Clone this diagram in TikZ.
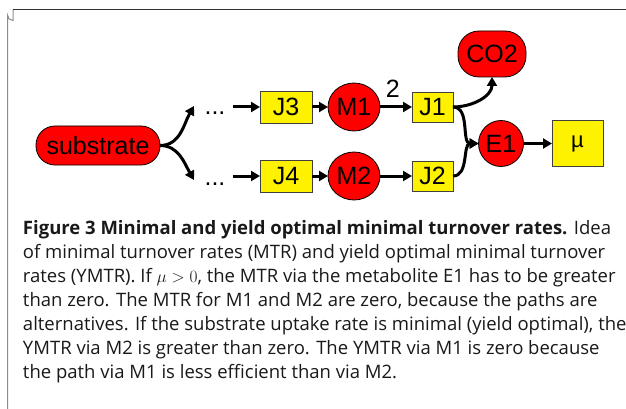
\documentclass[tikz,border=0pt]{standalone}
\usepackage{fontspec}
\setmainfont{Liberation Sans}
\newfontfamily\capfont{Open Sans}
\usetikzlibrary{arrows.meta,shapes.geometric}
\begin{document}
\begin{tikzpicture}[x=1pt,y=-1pt,
  every node/.style={inner sep=0pt, outer sep=0pt},
  lbl/.style={font=\fontsize{25}{25}\selectfont},
  met/.style={lbl, ellipse, draw=black, line width=0.8pt, fill=red, minimum width=52pt, minimum height=48pt},
  pill/.style={lbl, rectangle, draw=black, line width=0.8pt, fill=red, rounded corners=19pt},
  rxn/.style={lbl, rectangle, draw=black!75, line width=0.8pt, fill=yellow, minimum width=52pt, minimum height=32pt},
  rxnsm/.style={rxn, minimum width=41pt, minimum height=30pt},
  flow/.style={line width=3pt, -{Triangle[length=9pt,width=10pt]}},
  capline/.style={anchor=base west, font=\capfont\fontsize{18.5}{24}\selectfont, text=black!90}]
\useasboundingbox (0,0) rectangle (626,409);
% frame
\draw[black!45, line width=1pt] (7.5,420) -- (7.5,15) arc[start angle=180, end angle=90, radius=5.5] -- (13,9.5);
\draw[black!80, line width=1.5pt] (13,9.5) -- (630,9.5);
% nodes
\node[pill, minimum width=124pt, minimum height=39pt] (sub) at (98,145.5) {substrate};
\coordinate (up) at (194,106);
\coordinate (dn) at (194,180);
\node[lbl, anchor=base] (d1) at (215,115) {...};
\node[lbl, anchor=base] (d2) at (215,185) {...};
\coordinate (s3) at (233,107);
\coordinate (s4) at (233,176);
\node[rxn] (J3) at (286,107) {J3};
\node[rxn] (J4) at (286,176) {J4};
\node[met] (M1) at (354,107) {M1};
\node[met] (M2) at (354,176) {M2};
\node[rxnsm] (J1) at (432.5,107) {J1};
\node[rxnsm] (J2) at (432.5,176) {J2};
\node[pill, rounded corners=21pt, minimum width=68pt, minimum height=46pt] (CO2) at (492,54) {CO2};
\node[met, minimum width=45pt, minimum height=46pt] (E1) at (501,143.5) {E1};
\node[rxn, minimum width=51pt, minimum height=46pt] (mu) at (577.5,143.5) {\fontsize{22}{22}\selectfont µ};
% connectors
\draw[flow] (sub.east) to[out=0,in=240] (up);
\draw[flow] (sub.east) to[out=0,in=120] (dn);
\draw[flow] (s3) -- (J3);
\draw[flow] (s4) -- (J4);
\draw[flow] (J3) -- (M1);
\draw[flow] (J4) -- (M2);
\draw[flow] (M1) -- node[lbl, pos=0.4, above=9pt] (two) {2} (J1);
\draw[flow] (M2) -- (J2);
\draw[flow] (J1.east) to[out=0,in=-90] (CO2.south);
\draw[flow] (J1.east) to[out=0,in=180] (E1.west);
\draw[flow] (J2.east) to[out=0,in=180] (E1.west);
\draw[flow] (E1) -- (mu);
% caption
\node[capline] (c1) at (23,234) {\textbf{Figure 3 Minimal and yield optimal minimal turnover rates.} Idea};
\node[capline] (c2) at (23,258) {of minimal turnover rates (MTR) and yield optimal minimal turnover};
\node[capline] (c3) at (23,282) {rates (YMTR). If $\mu > 0$, the MTR via the metabolite E1 has to be greater};
\node[capline] (c4) at (23,306) {than zero. The MTR for M1 and M2 are zero, because the paths are};
\node[capline] (c5) at (23,330) {alternatives. If the substrate uptake rate is minimal (yield optimal), the};
\node[capline] (c6) at (23,354) {YMTR via M2 is greater than zero. The YMTR via M1 is zero because};
\node[capline] (c7) at (23,378) {the path via M1 is less efficient than via M2.};
\end{tikzpicture}
\end{document}
